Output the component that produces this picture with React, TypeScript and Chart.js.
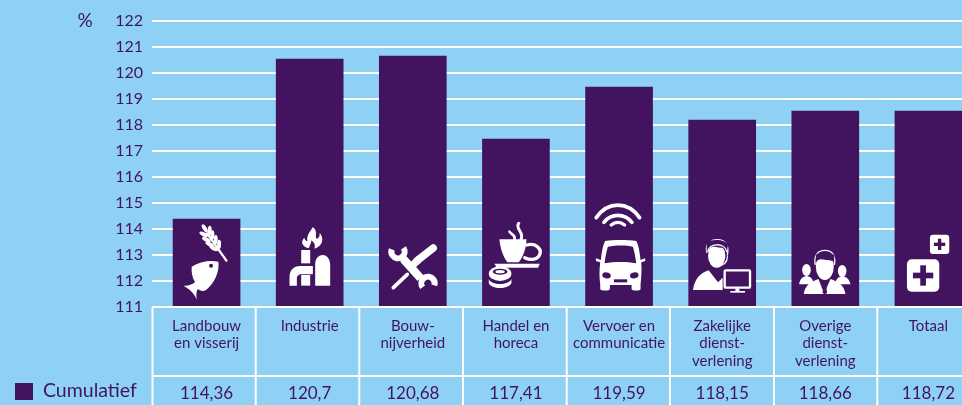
import React, { useEffect, useRef } from "react";
import { Chart, registerables } from "chart.js";

Chart.register(...registerables);

const categories = [
  ["Landbouw", "en visserij"],
  ["Industrie"],
  ["Bouw-", "nijverheid"],
  ["Handel en", "horeca"],
  ["Vervoer en", "communicatie"],
  ["Zakelijke", "dienst-", "verlening"],
  ["Overige", "dienst-", "verlening"],
  ["Totaal"],
];
const barValues = [114.38, 120.54, 120.65, 117.46, 119.46, 118.19, 118.54, 118.54];
const tableValues = ["114,36", "120,7", "120,68", "117,41", "119,59", "118,15", "118,66", "118,72"];
const seriesName = "Cumulatief";
const unitLabel = "%";

const VIOLET = "#42145f";
const SKY = "#8fd0f5";
const FONT = "Lato, 'Open Sans', sans-serif";
const cellEdges = [152.5, 255.7, 359.3, 463, 566.7, 670, 774, 877.3];

type C = CanvasRenderingContext2D;
const P = (c: C, d: string, fill = "#fff") => { c.fillStyle = fill; c.fill(new Path2D(d)); };
const L = (c: C, d: string, w: number, color = "#fff", cap: CanvasLineCap = "round") => {
  c.strokeStyle = color; c.lineWidth = w; c.lineCap = cap; c.lineJoin = "round"; c.stroke(new Path2D(d));
};
const E = (c: C, x: number, y: number, rx: number, ry: number, fill = "#fff", rot = 0) => {
  c.fillStyle = fill; c.beginPath(); c.ellipse(x, y, rx, ry, rot, 0, Math.PI * 2); c.fill();
};
const RR = (c: C, x: number, y: number, w: number, h: number, r: number, fill = "#fff") => {
  c.fillStyle = fill; c.beginPath(); c.roundRect(x, y, w, h, r); c.fill();
};

// Each icon is authored at 3x scale; origin [left of bar, foot of bar] given with it.
const icons: { o: [number, number]; draw: (c: C) => void }[] = [
  { o: [6, 276], draw: (c) => {
    L(c, "M166,137 L108,55", 7);
    ([[101, 40], [116, 46], [98, 58], [124, 60], [106, 74], [134, 74], [116, 88], [144, 88], [128, 100]] as number[][]).forEach(([x, y], i) =>
      E(c, x, y, 14, 6, "#fff", i === 0 ? 1 : i % 2 ? 1.6 : 0.45));
    P(c, "M62,155 C85,140 115,135 142,140 C146,170 130,205 105,225 C97,230 88,228 80,222 C74,232 76,243 77,254 C70,236 58,224 37,212 C50,214 60,210 72,202 C64,188 60,170 62,155Z");
    E(c, 120, 152, 6, 6, VIOLET);
  } },
  { o: [318, 276], draw: (c) => {
    P(c, "M428,36 C445,50 432,62 440,72 C447,68 450,60 448,53 C462,68 460,92 432,101 C438,90 430,82 424,76 C422,88 418,92 416,100 C400,96 388,84 402,68 C404,75 408,78 412,78 C408,62 420,50 428,36Z");
    c.fillStyle = "#fff";
    c.fillRect(393, 105, 27, 40);
    c.fillRect(393, 180, 27, 32);
    P(c, "M435,212 L435,148 C435,128 447,120 458,120 C471,120 480,134 480,150 L480,212Z");
    P(c, "M358,212 L358,186 C358,166 370,153 390,153 L428,153 L428,178 L393,178 C385,178 380,183 380,190 L380,212Z");
  } },
  { o: [0, 276], draw: (c) => {
    L(c, "M72,132 L124,190", 25, "#fff", "butt");
    c.lineCap = "butt";
    c.strokeStyle = "#fff"; c.lineWidth = 18;
    c.beginPath(); c.arc(56, 110, 20, -0.6, 3.5, false); c.stroke();
    c.beginPath(); c.arc(146, 205, 20, 2.5, 6.6, false); c.stroke();
    L(c, "M112,138 L162,99", 22, "#fff", "round");
    L(c, "M120,132 L92,158", 22, "#fff", "butt");
    L(c, "M84,178 L42,218", 11);
  } },
  { o: [309, 276], draw: (c) => {
    P(c, "M360,73 L441,73 C441,100 430,128 418,142 L384,142 C372,128 362,100 360,73Z");
    L(c, "M442,90 C470,82 492,105 478,124 C470,135 452,136 436,128", 10);
    P(c, "M345,146 L481,146 L476,158 L352,158Z");
    L(c, "M418,25 C405,40 435,52 425,72", 9);
    L(c, "M390,50 C395,58 410,62 405,72", 8);
    E(c, 362, 176, 34, 22);
    E(c, 362, 170, 22, 9, VIOLET);
    E(c, 362, 170, 14, 5);
    P(c, "M328,192 L328,204 C335,224 388,224 396,204 L396,192 C388,212 335,212 328,192Z");
  } },
  { o: [3, 336], draw: (c) => {
    L(c, "M35,68 C70,18 130,18 165,68", 11);
    L(c, "M58,82 C80,54 120,54 142,82", 11);
    L(c, "M80,90 C92,80 108,80 120,90", 10);
    P(c, "M62,138 C85,134 130,134 155,138 C162,150 165,170 168,195 L182,190 L182,198 L170,202 C172,225 170,250 168,268 L168,282 C168,288 142,288 141,282 L141,270 L76,270 L76,282 C76,288 48,288 47,282 L47,268 C44,250 44,225 47,202 L34,198 L34,190 L49,195 C52,170 55,150 62,138Z");
    P(c, "M70,155 C95,150 125,150 145,155 C150,170 153,190 155,205 C125,200 90,200 60,205 C62,190 65,170 70,155Z", VIOLET);
    E(c, 66, 241, 13, 9, VIOLET, 0.2);
    E(c, 149, 241, 13, 9, VIOLET, -0.2);
    c.fillStyle = VIOLET; c.fillRect(88, 253, 40, 9);
  } },
  { o: [312, 336], draw: (c) => {
    P(c, "M325,285 C330,252 345,235 372,226 L400,262 L414,248 L414,285Z");
    E(c, 396, 182, 26, 36);
    L(c, "M366,172 C360,140 385,134 398,134 C420,134 435,148 428,180", 4);
    P(c, "M366,172 C372,156 385,154 396,156 C410,160 422,156 426,172 L430,150 C425,135 385,130 366,142Z", VIOLET);
    L(c, "M370,170 C370,145 420,140 426,170", 4);
    L(c, "M428,185 C428,205 415,212 395,214", 4);
    c.strokeStyle = "#fff"; c.lineWidth = 7; c.beginPath(); c.roundRect(420, 226, 76, 52, 3); c.stroke();
    c.fillStyle = "#fff"; c.fillRect(452, 280, 12, 8); c.fillRect(437, 288, 44, 5);
  } },
  { o: [6, 246], draw: (c) => {
    E(c, 50, 135, 13, 18);
    P(c, "M28,178 C30,160 40,155 50,152 C62,155 70,160 72,178Z");
    E(c, 157, 138, 13, 18);
    P(c, "M135,178 C138,160 148,155 157,152 C168,155 178,160 182,178Z");
    c.strokeStyle = VIOLET; c.lineWidth = 6; c.beginPath(); c.ellipse(105, 122, 36, 50, 0, 0, 7); c.stroke();
    P(c, "M42,207 C45,180 65,170 86,162 L103,206 L122,162 C145,170 163,180 167,207Z");
    E(c, 105, 125, 27, 40);
    L(c, "M76,118 C72,90 85,76 105,76 C128,76 138,92 134,118", 4);
    P(c, "M78,112 C85,100 95,102 105,104 C118,107 128,104 132,112 L134,92 C125,80 88,80 78,90Z", VIOLET);
    P(c, "M98,167 L112,167 L108,178 L112,204 L105,208 L98,204 L102,178Z", VIOLET);
  } },
  { o: [312, 246], draw: (c) => {
    RR(c, 348, 103, 97, 97, 14);
    RR(c, 417, 29, 58, 58, 9);
    c.fillStyle = VIOLET;
    c.fillRect(388, 121, 17, 61); c.fillRect(366, 143, 61, 17);
    c.fillRect(441, 41, 10, 34); c.fillRect(429, 53, 34, 10);
  } },
];

const decorations = {
  id: "decorations",
  beforeDraw(chart: any) {
    const c: C = chart.ctx;
    c.save();
    c.fillStyle = SKY;
    c.fillRect(0, 0, chart.width, chart.height);
    c.restore();
  },
  afterDatasetsDraw(chart: any) {
    const c: C = chart.ctx;
    const bars = chart.getDatasetMeta(0).data;
    const base = chart.scales.y.getPixelForValue(111);
    icons.forEach((icon, i) => {
      const left = bars[i].x - bars[i].width / 2;
      c.save();
      c.translate(left, base);
      c.scale(1 / 3, 1 / 3);
      c.translate(-icon.o[0], -icon.o[1]);
      icon.draw(c);
      c.restore();
    });
  },
  afterDraw(chart: any) {
    const c: C = chart.ctx;
    c.save();
    c.strokeStyle = "#fff";
    c.lineWidth = 2;
    const top = 307;
    const rule = 376;
    c.beginPath();
    c.moveTo(152, top); c.lineTo(chart.width, top);
    c.moveTo(152, rule); c.lineTo(chart.width, rule);
    cellEdges.forEach((x) => { c.moveTo(x, top); c.lineTo(x, chart.height); });
    c.stroke();
    c.fillStyle = VIOLET;
    c.fillRect(15, 383, 18, 17);
    c.font = `19.5px ${FONT}`;
    c.textBaseline = "middle";
    c.textAlign = "left";
    c.fillText(chart.data.datasets[0].label, 43, 391);
    c.font = `19px ${FONT}`;
    c.textAlign = "center";
    c.fillText(unitLabel, 85, 21);
    c.restore();
  },
};

export default function App() {
  const ref = useRef<HTMLCanvasElement>(null);
  useEffect(() => {
    const chart = new Chart(ref.current!, {
      type: "bar",
      plugins: [decorations],
      data: {
        labels: categories as any,
        datasets: [{ label: seriesName, data: barValues, backgroundColor: VIOLET, barThickness: 67 }],
      },
      options: {
        animation: false,
        responsive: false,
        layout: { padding: { top: 21, left: 0, right: 0, bottom: 0 } },
        plugins: { legend: { display: false }, tooltip: { enabled: false } },
        scales: {
          y: {
            min: 111,
            max: 122,
            ticks: { stepSize: 1, color: VIOLET, font: { family: FONT, size: 16 }, padding: 9 },
            grid: { color: "#fff", lineWidth: 2, tickLength: 3, tickColor: "#fff" },
            border: { display: false },
            afterFit: (s: any) => { s.width = 155; },
          },
          x: {
            position: "bottom",
            grid: { display: false, drawTicks: false },
            border: { display: false },
            ticks: {
              color: VIOLET, autoSkip: false, maxRotation: 0, minRotation: 0, padding: 10,
              font: { family: FONT, size: 15, lineHeight: 1.17 },
            },
            afterFit: (s: any) => { s.height = 69; },
          },
          x2: {
            type: "category",
            position: "bottom",
            labels: tableValues,
            grid: { display: false, drawTicks: false },
            border: { display: false },
            ticks: {
              color: VIOLET, autoSkip: false, maxRotation: 0, minRotation: 0, padding: 7,
              font: { family: FONT, size: 17 },
            },
            afterFit: (s: any) => { s.height = 29; },
          },
        },
      } as any,
    });
    return () => chart.destroy();
  }, []);
  return (
    <div style={{ position: "fixed", left: 0, top: 0, width: 962, height: 405, overflow: "hidden", background: SKY }}>
      <canvas ref={ref} width={980} height={405} style={{ display: "block" }} />
    </div>
  );
}
